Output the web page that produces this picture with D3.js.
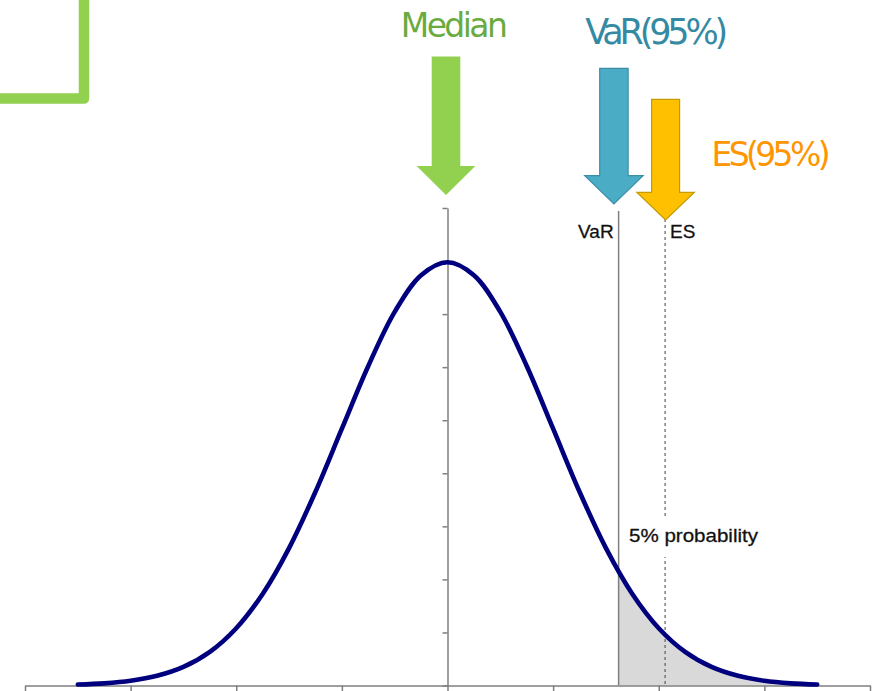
<!DOCTYPE html>
<html><head><meta charset="utf-8">
<script src="https://cdn.jsdelivr.net/npm/d3@7"></script>
<style>html,body{margin:0;padding:0;background:#fff;}svg{display:block;}</style>
</head><body>
<svg id="c" width="882" height="691"></svg>
<script>
// ---- data ----
const xValues = [-3.5,-3.25,-3,-2.75,-2.5,-2.25,-2,-1.75,-1.5,-1.25,-1,-0.75,-0.5,-0.25,0,0.25,0.5,0.75,1,1.25,1.5,1.75,2,2.25,2.5,2.75,3,3.25,3.5];
const density = [0.0009,0.0020,0.0044,0.0091,0.0175,0.0317,0.0540,0.0863,0.1295,0.1826,0.2420,0.3011,0.3521,0.3867,0.3989,0.3867,0.3521,0.3011,0.2420,0.1826,0.1295,0.0863,0.0540,0.0317,0.0175,0.0091,0.0044,0.0020,0.0009];
const xTicks = [-4,-3,-2,-1,0,1,2,3,4];
const yTicks = [0,0.05,0.1,0.15,0.2,0.25,0.3,0.35,0.4,0.45];
const medianValue = 0;
const varValue = 1.62;
const esValue = 2.06;
const titles = {median:"Median", varT:"VaR(95%)", es:"ES(95%)"};
const labels = {varL:"VaR", esL:"ES", prob:"5% probability"};

const svg = d3.select("#c");
const x = d3.scaleLinear().domain([-4,4]).range([25,870]);
const y = d3.scaleLinear().domain([0,0.45]).range([685.5,208]);
const pts = xValues.map((v,i)=>({x:v,y:density[i]}));

// green corner decoration
svg.append("path").attr("d","M0,98.5 H84 V0").attr("fill","none")
  .attr("stroke","#92d050").attr("stroke-width",10.5).attr("stroke-linejoin","round");

// shaded tail
svg.append("clipPath").attr("id","tail").append("rect")
  .attr("x",x(varValue)).attr("y",0).attr("width",882-x(varValue)).attr("height",691);
svg.append("path").datum(pts).attr("clip-path","url(#tail)")
  .attr("fill","#d9d9d9")
  .attr("d",d3.area().x(d=>x(d.x)).y0(y(0)).y1(d=>y(d.y)).curve(d3.curveCatmullRom));

// axes
const xAxis = svg.append("g").attr("transform",`translate(0,${y(0)})`)
  .call(d3.axisBottom(x).tickValues(xTicks).tickSize(7).tickSizeOuter(0).tickFormat(""));
const yAxis = svg.append("g").attr("transform",`translate(${x(0)},0)`)
  .call(d3.axisLeft(y).tickValues(yTicks).tickSize(5).tickSizeOuter(0).tickFormat(""));
[xAxis,yAxis].forEach(g=>{g.selectAll("path,line").attr("stroke","#7f7f7f").attr("stroke-width",1.5);});

// VaR / ES lines
svg.append("line").attr("x1",x(varValue)).attr("x2",x(varValue)).attr("y1",211).attr("y2",y(0))
  .attr("stroke","#7f7f7f").attr("stroke-width",1.5);
svg.append("line").attr("x1",x(esValue)).attr("x2",x(esValue)).attr("y1",219).attr("y2",y(0))
  .attr("stroke","#404040").attr("stroke-width",1).attr("stroke-dasharray","3,3");

// label box
svg.append("rect").attr("x",x(varValue)+4).attr("y",516).attr("width",142).attr("height",41).attr("fill","#fff");
svg.append("text").attr("x",629).attr("y",541.5).text(labels.prob)
  .attr("font-family","Liberation Sans, Arial, sans-serif").attr("font-size",19).attr("fill","#111")
  .attr("stroke","#111").attr("stroke-width",0.3)
  .attr("textLength",129).attr("lengthAdjust","spacingAndGlyphs");
svg.append("text").attr("x",x(varValue)-5).attr("y",238).attr("text-anchor","end").text(labels.varL)
  .attr("font-family","Liberation Sans, Arial, sans-serif").attr("font-size",19).attr("fill","#111")
  .attr("stroke","#111").attr("stroke-width",0.3);
svg.append("text").attr("x",x(esValue)+5).attr("y",238).text(labels.esL)
  .attr("font-family","Liberation Sans, Arial, sans-serif").attr("font-size",19).attr("fill","#111")
  .attr("stroke","#111").attr("stroke-width",0.3);

// curve
svg.append("path").datum(pts).attr("fill","none").attr("stroke","#00007f").attr("stroke-width",4.6)
  .attr("stroke-linecap","round")
  .attr("d",d3.line().x(d=>x(d.x)).y(d=>y(d.y)).curve(d3.curveCatmullRom));

// arrows
function arrow(cx, top, headY, tip, sh, hh, fill, stroke){
  const p = `M${cx-sh},${top} H${cx+sh} V${headY} H${cx+hh} L${cx},${tip} L${cx-hh},${headY} H${cx-sh} Z`;
  svg.append("path").attr("d",p).attr("fill",fill).attr("stroke",stroke).attr("stroke-width",stroke==="none"?0:1.2);
}
arrow(x(medianValue)-1.5, 56.5, 166, 195, 14.3, 29.3, "#92d050", "none");
arrow(x(varValue)-4.7, 68.3, 175.7, 204, 14.2, 29.2, "#4bacc6", "#3b8ea6");
arrow(x(esValue)+0.5, 99.3, 192.3, 220, 14, 28.7, "#ffc000", "#c49b00");

// titles
function title(t, cx, by, size, len, col){
  svg.append("text").attr("x",cx).attr("y",by).attr("text-anchor","middle").text(t)
    .attr("font-family","DejaVu Sans, Verdana, sans-serif").attr("font-size",size).attr("fill",col)
    .attr("textLength",len).attr("lengthAdjust","spacing");
}
title(titles.median, 454.3, 37, 33, 107, "#6aab3e");
title(titles.varT, 656.7, 43.5, 35, 143, "#3489a3");
title(titles.es, 771, 165.7, 33, 119, "#ff9500");
</script>
</body></html>
